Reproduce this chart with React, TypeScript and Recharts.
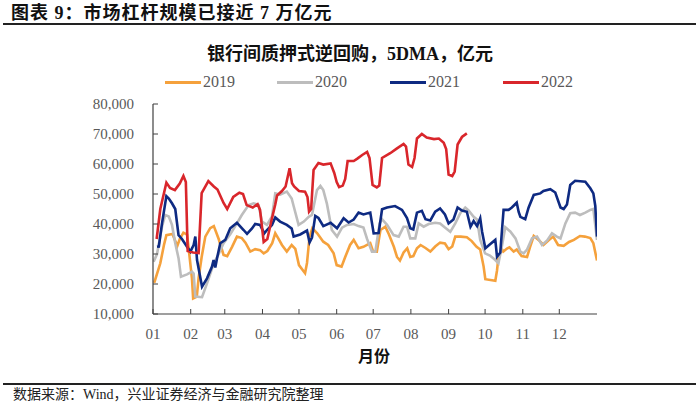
import React from "react";
import { LineChart, Line, XAxis, YAxis } from "recharts";

// Day-of-year positions of month starts and their labels
const monthTicks = [0, 31, 59, 90, 120, 151, 181, 212, 243, 273, 304, 334];
const monthLabels = ["01", "02", "03", "04", "05", "06", "07", "08", "09", "10", "11", "12"];
const yTicks = [10000, 20000, 30000, 40000, 50000, 60000, 70000, 80000];

// [day of year, value (亿元)]
const s2019: [number, number][] = [
  [1, 20400], [6, 26900], [9, 33000], [11, 36300], [16, 36700], [18, 34700], [20, 32700], [22, 35000],
  [25, 37100], [28, 36500], [29, 33000], [32, 22000], [33, 15200], [36, 15800], [37.5, 22000], [40, 29000],
  [43, 35800], [47, 38600], [50, 39300], [54, 35000], [58, 29700], [61, 29300], [65, 32400], [69, 35800],
  [73, 35300], [76, 33800], [80, 30800], [84, 31600], [88, 31300], [91, 30200], [94, 31000], [98, 33600],
  [100.5, 36900], [103, 35200], [106, 33000], [110, 30800], [114, 33000], [117, 31700], [120, 26300],
  [125, 23600], [126.6, 27000], [128.7, 35800], [131, 38600], [135, 36900], [140, 34100], [144, 33000],
  [148.5, 30200], [151, 26300], [155, 25800], [158, 29000], [162, 33000], [165, 34700], [169, 31900],
  [173, 32400], [178.6, 33600], [181, 30800], [184, 30800], [187, 38000], [191, 39100], [194, 36500],
  [198, 32400], [200.6, 29000], [203, 27800], [206, 30500], [209, 31900], [211.5, 29000], [214, 29300],
  [217, 31900], [220, 33000], [224, 32000], [228, 30800], [232, 32500], [236, 33800], [240, 33500],
  [243, 31600], [246, 32500], [248.5, 35800], [253, 35800], [258, 35600], [262, 34300], [266, 32400],
  [269, 31500], [271.8, 25800], [273.2, 21600], [281.4, 21100], [282.8, 24500], [284, 29100], [287, 31500],
  [288, 30800], [291, 31800], [293, 32200], [296.5, 30800], [299, 31500], [303, 29300], [307.5, 29000],
  [310, 32400], [313, 36000], [317, 34700], [321, 33000], [325, 34500], [329, 35800], [333, 33000],
  [337.6, 32700], [342, 34000], [346, 34700], [351, 36000], [355, 35800], [359.5, 35300], [362, 33600],
  [365, 27800],
];

const s2020: [number, number][] = [
  [0.5, 27400], [3.3, 30000], [7.4, 39100], [10, 43000], [13, 42500], [15.6, 39700], [18.3, 33600],
  [21, 28600], [23, 22400], [28, 23200], [32, 24100], [33.4, 23500], [34.8, 15800], [40.3, 15600],
  [44.4, 20200], [50, 26900], [54, 30000], [58, 33600], [63.5, 36600], [69, 40200], [73, 43000],
  [78.6, 46300], [82.7, 46900], [86.8, 46300], [89.6, 40800], [93.7, 39700], [97.8, 42500], [100.5, 50200],
  [104.5, 49800], [110, 50800], [114, 48500], [115.6, 46000], [119.7, 39700], [124, 40800], [128, 42400],
  [130.7, 43000], [134.8, 51300], [137.6, 52700], [140, 51300], [143, 46700], [147, 38000], [151.3, 35800],
  [155.4, 38800], [159.5, 39700], [165, 40000], [169, 39300], [173, 38800], [176, 35000], [180, 30800],
  [182.8, 30800], [186.3, 40200], [188.3, 41600], [192.4, 39700], [197.8, 36300], [202, 35800], [206, 39100],
  [208.8, 39100], [211.5, 35200], [215.6, 35200], [218.4, 40200], [222.5, 39100], [226.6, 40000],
  [232, 40400], [236, 40200], [240, 38800], [244.4, 37400], [248.5, 40200], [252.6, 43600], [256.7, 45500],
  [259.4, 44500], [263.6, 42400], [266.4, 41500], [269, 34700], [273, 30200], [277, 29500], [281.4, 28000],
  [284, 26900], [287, 33000], [289.6, 38900], [293.7, 37500], [298, 35200], [302, 30800], [304.7, 30200],
  [307.5, 31500], [311.6, 35200], [315.7, 35800], [319.8, 33000], [324, 34500], [328, 36900], [332, 35800],
  [335, 35200], [339, 40200], [343, 43600], [347, 43800], [351, 43000], [355.4, 43800], [359.5, 44700],
  [362, 45000], [365, 34700],
];

const s2021: [number, number][] = [
  [3.3, 32400], [4.8, 32500], [7.4, 40200], [11, 49300], [13, 48500], [15.6, 46900], [18.3, 45000],
  [21, 36300], [23.8, 35000], [28, 32400], [30.7, 30800], [33.4, 33000], [34.8, 35800], [36.2, 28000],
  [40.3, 19100], [44.4, 21900], [48.5, 25800], [49.8, 28000], [51.2, 25500], [52.6, 28500], [55.3, 33600],
  [59.4, 34700], [63.5, 38600], [69, 40400], [74.5, 38000], [77.3, 36700], [81.4, 38500], [84, 40000],
  [88, 39700], [91.5, 36900], [93.7, 38000], [97.8, 39700], [100.5, 42200], [104.5, 40800], [110, 39700],
  [114, 38500], [115.6, 35800], [121, 36500], [126.6, 37800], [128.7, 33900], [130.7, 35500], [133.4, 42700],
  [136, 42000], [140, 39300], [146, 40400], [151.3, 38600], [156.7, 41900], [160.8, 40500], [165, 41500],
  [169, 43800], [173, 43200], [178.6, 43800], [181.4, 36900], [185.5, 37000], [188.3, 44900], [192.4, 45500],
  [199, 46000], [204.7, 44700], [208.8, 42000], [211.5, 38600], [214, 38200], [217, 43800], [221, 44400],
  [224, 41600], [228, 41200], [232, 44100], [236, 45200], [240, 43200], [243, 40200], [247, 41500],
  [250.4, 45500], [254, 44500], [258, 44100], [261, 39100], [263.6, 41000], [266.4, 39300], [269, 41900],
  [270.5, 37500], [273.2, 31900], [277.3, 33300], [281.4, 34700], [282.8, 29100], [285.5, 30500],
  [287, 38500], [288.2, 44700], [292.3, 44700], [295, 45500], [299, 47100], [300.6, 44000], [302, 42400],
  [306, 41600], [308.8, 45500], [313, 49700], [318.4, 50200], [321, 51000], [326.6, 51600], [330.7, 50500],
  [335, 45500], [337.6, 45000], [340.3, 46500], [343, 53000], [347, 54400], [355.4, 54100], [359.5, 51900],
  [362, 50200], [363.6, 46000], [365, 35800],
];

const s2022: [number, number][] = [
  [3, 35000], [6, 45000], [11, 53800], [14, 52000], [18, 51300], [22, 53500], [25, 56000], [27, 54000],
  [28.5, 31000], [33, 30500], [37.5, 30300], [40, 50300], [45.5, 54300], [50, 52500], [53, 51500],
  [58, 47000], [61, 45000], [66, 49000], [71, 50400], [74, 50000], [77, 46300], [82, 45500], [86, 46600],
  [88, 44700], [91, 34000], [94, 35000], [97, 40500], [100.5, 46500], [102, 49500], [106, 51000],
  [109, 52500], [112.3, 58600], [114.3, 53600], [116, 52500], [120, 51000], [125, 50800], [127, 49000],
  [128.3, 44100], [130, 45000], [132, 58000], [136, 60300], [140, 59800], [146, 60200], [149, 57000],
  [151, 54000], [153, 52300], [156, 52800], [158, 55000], [160, 61000], [165, 61000], [168, 61800],
  [172, 63000], [176, 64000], [178, 62000], [180.5, 53000], [184, 52200], [186, 52800], [188.3, 62000],
  [195, 63600], [200.6, 65200], [206, 66700], [208, 65800], [210, 59800], [213, 59000], [215, 62000],
  [217, 68500], [221, 70000], [225, 68800], [231, 68300], [235, 68500], [239, 67100], [241, 65000],
  [243, 56500], [246, 56000], [248, 57500], [250.4, 66500], [254, 69000], [258, 70200],
];

const toData = (s: [number, number][]) => s.map(([d, v]) => ({ day: d, value: v }));

const series = [
  { name: "2019", color: "#F5A13C", data: toData(s2019) },
  { name: "2020", color: "#BDBDBD", data: toData(s2020) },
  { name: "2021", color: "#0E2A82", data: toData(s2021) },
  { name: "2022", color: "#D9262B", data: toData(s2022) },
];

const legendX = [165, 277, 390, 503];

const SERIF = '"Liberation Serif", "Noto Sans CJK SC", serif';

export default function App() {
  return (
    <div
      style={{
        position: "fixed",
        left: 0,
        top: 0,
        width: 700,
        height: 404,
        background: "#fff",
        fontFamily: SERIF,
        overflow: "hidden",
      }}
    >
      <div
        style={{
          position: "absolute",
          left: 11,
          top: 2,
          fontSize: 18,
          letterSpacing: 1,
          fontWeight: 700,
          color: "#111",
          whiteSpace: "nowrap",
          lineHeight: "22px",
        }}
      >
        图表 9：市场杠杆规模已接近 7 万亿元
      </div>
      <div style={{ position: "absolute", left: 3, top: 23, width: 693, height: 2, background: "#222" }} />

      <div
        style={{
          position: "absolute",
          left: 0,
          width: 700,
          top: 42,
          textAlign: "center",
          fontSize: 18,
          fontWeight: 700,
          color: "#111",
          lineHeight: "24px",
          whiteSpace: "nowrap",
        }}
      >
        银行间质押式逆回购，5DMA，亿元
      </div>

      {series.map((s, i) => (
        <div
          key={s.name}
          style={{ position: "absolute", left: legendX[i], top: 72, height: 20, display: "flex", alignItems: "center" }}
        >
          <div style={{ width: 36, height: 3, background: s.color }} />
          <span style={{ marginLeft: 2, fontSize: 16, color: "#595959", lineHeight: "20px" }}>{s.name}</span>
        </div>
      ))}

      <div style={{ position: "absolute", left: 0, top: 0 }}>
        <LineChart width={700} height={404} margin={{ top: 104, right: 103, bottom: 60, left: 93 }}>
          <XAxis
            type="number"
            dataKey="day"
            domain={[0, 365]}
            ticks={monthTicks}
            tickFormatter={(v: number) => monthLabels[monthTicks.indexOf(v)] ?? ""}
            allowDataOverflow
            height={30}
            tickSize={-5}
            tickMargin={19}
            interval={0}
            axisLine={{ stroke: "#404040", strokeWidth: 1.2 }}
            tickLine={{ stroke: "#404040" }}
            tick={{ fill: "#595959", fontSize: 15, fontFamily: SERIF }}
          />
          <YAxis
            type="number"
            domain={[10000, 80000]}
            ticks={yTicks}
            interval={0}
            width={60}
            tickSize={-5}
            tickMargin={24}
            tickFormatter={(v: number) => v.toLocaleString("en-US")}
            axisLine={{ stroke: "#404040", strokeWidth: 1.2 }}
            tickLine={{ stroke: "#404040" }}
            tick={{ fill: "#595959", fontSize: 15, fontFamily: SERIF }}
          />
          {series.map((s) => (
            <Line
              key={s.name}
              data={s.data}
              dataKey="value"
              name={s.name}
              type="linear"
              stroke={s.color}
              strokeWidth={2.6}
              dot={false}
              activeDot={false}
              isAnimationActive={false}
            />
          ))}
        </LineChart>
      </div>

      <div
        style={{
          position: "absolute",
          left: 358,
          top: 348,
          fontSize: 16,
          fontWeight: 700,
          color: "#111",
          lineHeight: "18px",
          whiteSpace: "nowrap",
        }}
      >
        月份
      </div>

      <div style={{ position: "absolute", left: 3, top: 383, width: 693, height: 2, background: "#222" }} />
      <div
        style={{
          position: "absolute",
          left: 13,
          top: 386,
          fontSize: 14,
          color: "#222",
          whiteSpace: "nowrap",
          lineHeight: "18px",
        }}
      >
        数据来源：Wind，兴业证券经济与金融研究院整理
      </div>
    </div>
  );
}
